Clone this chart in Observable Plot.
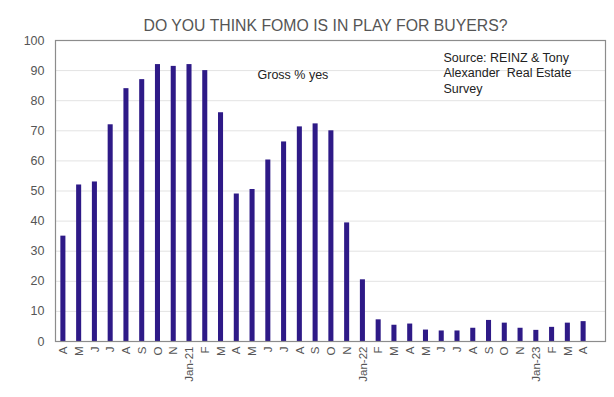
<!DOCTYPE html>
<html>
<head>
<meta charset="utf-8">
<script src="https://cdn.jsdelivr.net/npm/d3@7"></script>
<script src="https://cdn.jsdelivr.net/npm/@observablehq/plot@0.6"></script>
<style>
  html, body { margin: 0; padding: 0; background: #fff; }
  #chart svg { display: block; }
</style>
</head>
<body>
<div id="chart"></div>
<script>
const months = ["A","M","J","J","A","S","O","N","Jan-21","F","M","A","M","J","J","A","S","O","N","Jan-22","F","M","A","M","J","J","A","S","O","N","Jan-23","F","M","A"];
const periods = ["2020-04","2020-05","2020-06","2020-07","2020-08","2020-09","2020-10","2020-11",
  "2021-01","2021-02","2021-03","2021-04","2021-05","2021-06","2021-07","2021-08","2021-09","2021-10","2021-11",
  "2022-01","2022-02","2022-03","2022-04","2022-05","2022-06","2022-07","2022-08","2022-09","2022-10","2022-11",
  "2023-01","2023-02","2023-03","2023-04"];
const grossYes = [35,52,53,72,84,87,92,91.4,92,90,76,49,50.5,60.3,66.3,71.3,72.3,70,39.4,20.5,7.2,5.4,5.8,3.8,3.5,3.5,4.4,7,6.1,4.4,3.7,4.7,6.1,6.6];
const yTicks = [0,10,20,30,40,50,60,70,80,90,100];
const title = "DO YOU THINK FOMO IS IN PLAY FOR BUYERS?";
const seriesLabel = "Gross % yes";
const sourceText = "Source: REINZ & Tony\nAlexander  Real Estate\nSurvey";

const data = periods.map((p, i) => ({period: p, label: months[i], value: grossYes[i]}));
const labelOf = new Map(periods.map((p, i) => [p, months[i]]));

const chart = Plot.plot({
  width: 614,
  height: 397,
  marginLeft: 55,
  marginRight: 9,
  marginTop: 40,
  marginBottom: 56,
  style: {fontFamily: "'Liberation Sans', Arial, sans-serif", background: "#fff"},
  x: {domain: periods, range: [55, 591], paddingInner: 0.68, paddingOuter: 0.34, align: 0.5, round: false, label: null},
  y: {domain: [0, 100], label: null},
  marks: [
    Plot.gridY(yTicks, {stroke: "#e3e3e3", strokeOpacity: 1, strokeWidth: 1}),
    Plot.barY(data, {x: "period", y: "value", fill: "#2e1a87", insetLeft: 0, insetRight: 0}),
    Plot.axisY(yTicks, {tickSize: 0, tickPadding: 11, fontSize: 12.5, fill: "#555", stroke: null, label: null}),
    Plot.axisX({tickSize: 0, tickPadding: 5, tickRotate: -90, fontSize: 11.5, fill: "#555", tickFormat: d => labelOf.get(d), label: null}),
    Plot.frame({stroke: "#8c8c8c", strokeWidth: 1.2}),
    Plot.text([title], {frameAnchor: "top", dy: -21, dx: -5, fontSize: 15.8, fill: "#555", text: d => d}),
    Plot.text([seriesLabel], {frameAnchor: "top-left", dx: 202, dy: 30, fontSize: 12.5, fill: "#222", text: d => d, textAnchor: "start"}),
    Plot.text([sourceText], {frameAnchor: "top-left", dx: 388, dy: 10, fontSize: 12.5, fill: "#222", text: d => d, textAnchor: "start", lineAnchor: "top", lineHeight: 1.25})
  ]
});
document.getElementById("chart").appendChild(chart);
</script>
</body>
</html>
